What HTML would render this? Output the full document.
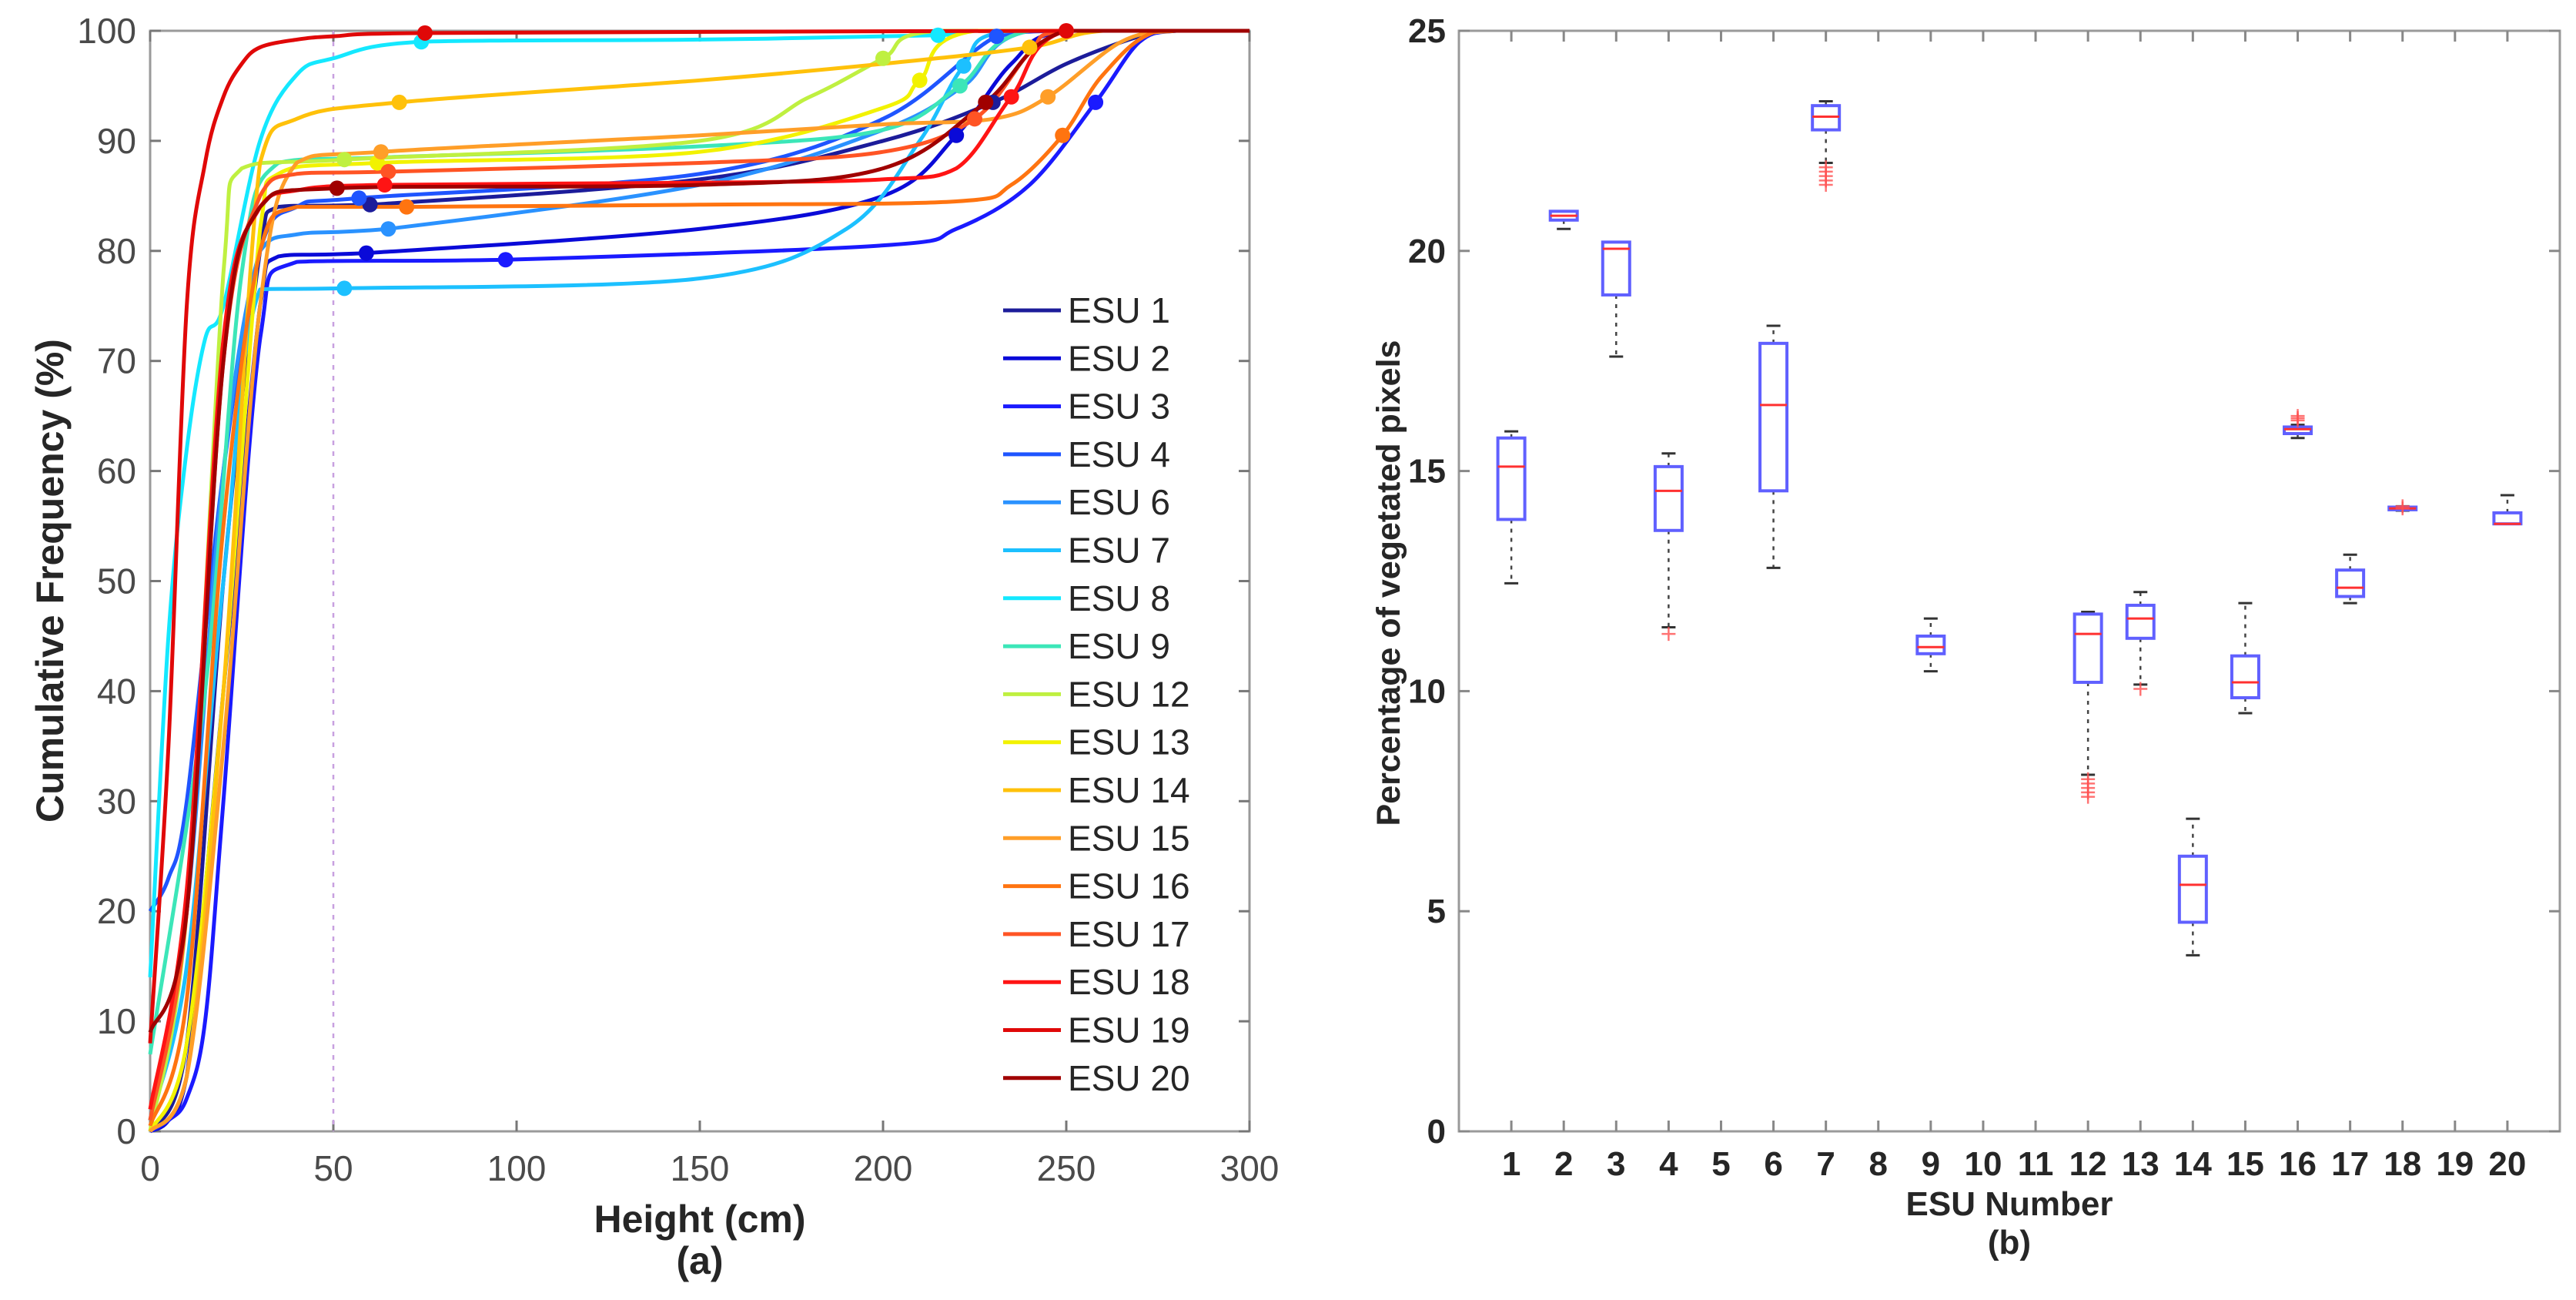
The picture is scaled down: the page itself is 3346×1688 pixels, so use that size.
<!DOCTYPE html>
<html><head><meta charset="utf-8"><title>Cumulative frequency and vegetated pixels</title>
<style>
html,body{margin:0;padding:0;background:#fff;}
svg{display:block;}
text{font-family:"Liberation Sans",Arial,sans-serif;}
</style></head>
<body>
<svg id="fig" width="3346" height="1688" viewBox="0 0 3346 1688" xmlns="http://www.w3.org/2000/svg">
<rect x="0" y="0" width="3346" height="1688" fill="#fff"/>
<g id="left"></g>
<g id="right"></g>
</svg>
<script>
// ---------- Panel (a) data ----------
const seriesNames = ["ESU 1","ESU 2","ESU 3","ESU 4","ESU 6","ESU 7","ESU 8","ESU 9","ESU 12","ESU 13","ESU 14","ESU 15","ESU 16","ESU 17","ESU 18","ESU 19","ESU 20"];
const seriesColors = ["#1c1c9a","#0a0ad8","#1a1aff","#1f55ff","#2a92ff","#1cc0ff","#14e8ff","#3ce6b8","#bff040","#f2f200","#ffc10a","#ff9e28","#ff7410","#ff5424","#ff1414","#e00808","#a00000"];
const esu1X = [0,10,20,30,35,60,150,200,230,250,270,280,300];
const esu1Y = [0,8,50,80,84,84.2,86.5,90,93.5,97,99.5,100,100];
const esu2X = [0,5,10,20,30,35,59,150,200,220,235,250,300];
const esu2Y = [0,1,5,40,75,79.5,79.8,82,85,90.5,97,100,100];
const esu3X = [0,5,10,15,20,30,40,97,200,220,240,258,270,280,300];
const esu3Y = [0,1,3,10,30,72,79,79.2,80.5,82,86,93.5,99,100,100];
const esu4X = [0,5,10,20,30,40,57,150,200,231,250,300];
const esu4Y = [20,23,30,60,80,84,84.8,87,92,99.5,100,300*0+100];
const esu6X = [0,10,20,30,40,65,150,200,222,240,300];
const esu6Y = [1,20,60,80,81.5,82,86,91,95,100,100];
const esu7X = [0,10,20,30,53,150,190,210,222,235,300];
const esu7Y = [1,15,50,76.5,76.6,77.5,82,90,96.8,100,100];
const esu8X = [0,5,10,15,20,30,40,50,74,150,215,225,300];
const esu8Y = [14,45,62,72,75,90,96,97.5,99,99.2,99.6,100,100];
const esu9X = [0,15,25,35,64,150,200,221,240,300];
const esu9Y = [7,40,78,88,88.5,89.5,91,95,100,100];
const esu12X = [0,10,20,25,53,150,180,200,215,300];
const esu12Y = [0,20,78,87.5,88.3,90,94,97.5,100,100];
const esu13X = [0,10,20,30,35,62,150,200,210,225,300];
const esu13Y = [0,8,40,82,87,88,89,93,95.5,100,100];
const esu14X = [0,10,20,30,40,68,150,200,240,260,300];
const esu14Y = [0,5,40,88,92,93.5,95.5,97,98.5,100,100];
const esu15X = [0,10,20,30,40,63,150,200,230,245,265,280,300];
const esu15Y = [0,5,35,75,88,89,90.5,91.5,92,94,99,100,100];
const esu16X = [0,10,20,30,40,70,150,220,235,249,260,275,300];
const esu16Y = [0.5,12,55,80,84,84,84.2,84.5,86,90.5,96,100,100];
const esu17X = [0,10,20,30,40,65,150,200,225,240,250,300];
const esu17Y = [1,20,70,85,87,87.2,88,89,92,98,100,100];
const esu18X = [0,10,20,30,40,64,150,200,220,235,250,300];
const esu18Y = [2,22,72,84,85.5,86,86.2,86.5,87.5,94,100,100];
const esu19X = [0,5,10,15,20,25,30,40,50,75,250,300];
const esu19Y = [8,35,75,88,94,97,98.5,99.2,99.5,99.8,100,100];
const esu20X = [0,10,20,30,51,150,200,228,250,300];
const esu20Y = [9,20,70,84,85.7,86,87.5,93.5,100,100];
const seriesX = [esu1X,esu2X,esu3X,esu4X,esu6X,esu7X,esu8X,esu9X,esu12X,esu13X,esu14X,esu15X,esu16X,esu17X,esu18X,esu19X,esu20X];
const seriesY = [esu1Y,esu2Y,esu3Y,esu4Y,esu6Y,esu7Y,esu8Y,esu9Y,esu12Y,esu13Y,esu14Y,esu15Y,esu16Y,esu17Y,esu18Y,esu19Y,esu20Y];
// markers: [seriesIndex, x, y]
const markerSeries = [0,0,1,1,2,2,3,3,4,5,5,6,6,7,8,8,9,9,10,10,11,11,12,12,13,13,14,14,15,15,16,16];
const markerX = [60,230,59,220,97,258,57,231,65,53,222,74,215,221,53,200,62,210,68,240,63,245,70,249,65,225,64,235,75,250,51,228];
const markerY = [84.2,93.5,79.8,90.5,79.2,93.5,84.8,99.5,82,76.6,96.8,99,99.6,95,88.3,97.5,88,95.5,93.5,98.5,89,94,84,90.5,87.2,92,86,94,99.8,100,85.7,93.5];
const xTicksA = [0,50,100,150,200,250,300];
const yTicksA = [0,10,20,30,40,50,60,70,80,90,100];

// ---------- Panel (b) data ----------
const esuNumbers = [1,2,3,4,6,7,9,12,13,14,15,16,17,18,20];
const q1Vals = [13.9,20.7,19.0,13.65,14.55,22.75,10.85,10.2,11.2,4.75,9.85,15.85,12.15,14.12,13.8];
const medVals = [15.1,20.8,20.05,14.55,16.5,23.05,11.0,11.3,11.65,5.6,10.2,15.95,12.35,14.15,13.8];
const q3Vals = [15.75,20.9,20.2,15.1,17.9,23.3,11.25,11.75,11.95,6.25,10.8,16.0,12.75,14.18,14.05];
const lowVals = [12.45,20.5,17.6,11.45,12.8,22.0,10.45,8.1,10.15,4.0,9.5,15.75,12.0,14.1,13.8];
const highVals = [15.9,20.9,20.2,15.4,18.3,23.4,11.65,11.8,12.25,7.1,12.0,16.05,13.1,14.2,14.45];
const outlierEsu = [4,7,7,7,7,7,12,12,12,12,12,13,16,16,16,18,18];
const outlierVals = [11.3,21.5,21.6,21.7,21.8,21.9,7.6,7.7,7.8,7.9,8.0,10.05,16.15,16.2,16.25,14.15,14.2];
const xTicksB = [1,2,3,4,5,6,7,8,9,10,11,12,13,14,15,16,17,18,19,20];
const yTicksB = [0,5,10,15,20,25];

const NS = "http://www.w3.org/2000/svg";
function mk(tag, attrs, parent){const e=document.createElementNS(NS,tag);for(const k in attrs)e.setAttribute(k,attrs[k]);parent.appendChild(e);return e;}

// ---------- Panel (a) ----------
const L = document.getElementById('left');
const aL=195,aR=1623,aT=40,aB=1469;
const ax = v => aL + (v/300)*(aR-aL);
const ay = v => aB - (v/100)*(aB-aT);
const frameA = mk('rect',{x:aL,y:aT,width:aR-aL,height:aB-aT,fill:'none',stroke:'#9a9a9a','stroke-width':3},L);


xTicksA.forEach(t=>{
  const tk=mk('line',{x1:ax(t),x2:ax(t),y1:aB,y2:aB-14,stroke:'#777','stroke-width':3},L);
  
  
  mk('line',{x1:ax(t),x2:ax(t),y1:aT,y2:aT+14,stroke:'#777','stroke-width':3},L);
  const tx=mk('text',{x:ax(t),y:1533,'text-anchor':'middle','font-size':46,fill:'#4a4a4a'},L);
  tx.textContent=t;
  
  
});
yTicksA.forEach(t=>{
  const tk=mk('line',{x1:aL,x2:aL+14,y1:ay(t),y2:ay(t),stroke:'#777','stroke-width':3},L);
  
  
  mk('line',{x1:aR,x2:aR-14,y1:ay(t),y2:ay(t),stroke:'#777','stroke-width':3},L);
  const tx=mk('text',{x:177,y:ay(t)+16,'text-anchor':'end','font-size':46,fill:'#4a4a4a'},L);
  tx.textContent=t;
  
  
});
const ref50=mk('line',{x1:ax(50),x2:ax(50),y1:aT,y2:aB,stroke:'#c8a0e0','stroke-width':2.5,'stroke-dasharray':'6,8'},L);



function smoothPath(px,py){
  let d=`M${px[0]},${py[0]}`;
  for(let i=0;i<px.length-1;i++){
    const x0=px[Math.max(i-1,0)],y0=py[Math.max(i-1,0)];
    const x1=px[i],y1=py[i],x2=px[i+1],y2=py[i+1];
    const x3=px[Math.min(i+2,px.length-1)],y3=py[Math.min(i+2,px.length-1)];
    let c1x=x1+(x2-x0)/6,c1y=y1+(y2-y0)/6,c2x=x2-(x3-x1)/6,c2y=y2-(y3-y1)/6;
    c1x=Math.min(Math.max(c1x,x1),x2);c2x=Math.min(Math.max(c2x,x1),x2);
    c1y=Math.max(Math.min(c1y,Math.max(y1,y2)),Math.min(y1,y2));
    c2y=Math.max(Math.min(c2y,Math.max(y1,y2)),Math.min(y1,y2));
    d+=` C${c1x},${c1y} ${c2x},${c2y} ${x2},${y2}`;
  }
  return d;
}
for(let s=0;s<seriesNames.length;s++){
  const px=seriesX[s].map(ax), py=seriesY[s].map(v=>ay(Math.min(v,100)));
  const p=mk('path',{d:smoothPath(px,py),fill:'none',stroke:seriesColors[s],'stroke-width':5,'stroke-linejoin':'round'},L);
  
  
}
for(let m=0;m<markerX.length;m++){
  const c=mk('circle',{cx:ax(markerX[m]),cy:ay(markerY[m]),r:10,fill:seriesColors[markerSeries[m]]},L);
  
  
}
// legend
const legendG=mk('g',{},L);


seriesNames.forEach((n,i)=>{
  const y=403+i*62.3;
  const ln=mk('line',{x1:1303,x2:1378,y1:y,y2:y,stroke:seriesColors[i],'stroke-width':5},legendG);
  
  
  const t=mk('text',{x:1387,y:y+16,'font-size':46,fill:'#262626'},legendG);
  t.textContent=n;
  
  
});
const xtA=mk('text',{x:909,y:1600,'text-anchor':'middle','font-size':50,'font-weight':'bold',fill:'#262626'},L);
xtA.textContent='Height (cm)';


const capA=mk('text',{x:909,y:1654,'text-anchor':'middle','font-size':50,'font-weight':'bold',fill:'#262626'},L);
capA.textContent='(a)';


const ytA=mk('text',{x:0,y:0,'text-anchor':'middle','font-size':50,'font-weight':'bold',fill:'#262626',transform:'translate(82,754) rotate(-90)'},L);
ytA.textContent='Cumulative Frequency (%)';



// ---------- Panel (b) ----------
const R=document.getElementById('right');
const bL=1895,bR=3325,bT=40,bB=1469;
const bx=v=>bL+(v/21)*(bR-bL);
const by=v=>bB-(v/25)*(bB-bT);
const frameB=mk('rect',{x:bL,y:bT,width:bR-bL,height:bB-bT,fill:'none',stroke:'#9a9a9a','stroke-width':3},R);


xTicksB.forEach(t=>{
  const tk=mk('line',{x1:bx(t),x2:bx(t),y1:bB,y2:bB-14,stroke:'#888','stroke-width':3},R);
  
  
  mk('line',{x1:bx(t),x2:bx(t),y1:bT,y2:bT+14,stroke:'#888','stroke-width':3},R);
  const tx=mk('text',{x:bx(t),y:1526,'text-anchor':'middle','font-size':44,'font-weight':'bold',fill:'#262626'},R);
  tx.textContent=t;
  
  
});
yTicksB.forEach(t=>{
  const tk=mk('line',{x1:bL,x2:bL+14,y1:by(t),y2:by(t),stroke:'#888','stroke-width':3},R);
  
  
  mk('line',{x1:bR,x2:bR-14,y1:by(t),y2:by(t),stroke:'#888','stroke-width':3},R);
  const tx=mk('text',{x:1878,y:by(t)+15,'text-anchor':'end','font-size':44,'font-weight':'bold',fill:'#262626'},R);
  tx.textContent=t;
  
  
});
const bw=35;
esuNumbers.forEach((e,i)=>{
  const cx=bx(e);
  const g=mk('g',{},R);
  
  
  mk('line',{x1:cx,x2:cx,y1:by(q3Vals[i]),y2:by(highVals[i]),stroke:'#444','stroke-width':2.5,'stroke-dasharray':'5,7'},g);
  mk('line',{x1:cx,x2:cx,y1:by(q1Vals[i]),y2:by(lowVals[i]),stroke:'#444','stroke-width':2.5,'stroke-dasharray':'5,7'},g);
  mk('line',{x1:cx-9,x2:cx+9,y1:by(highVals[i]),y2:by(highVals[i]),stroke:'#333','stroke-width':3},g);
  mk('line',{x1:cx-9,x2:cx+9,y1:by(lowVals[i]),y2:by(lowVals[i]),stroke:'#333','stroke-width':3},g);
  mk('rect',{x:cx-bw/2,y:by(q3Vals[i]),width:bw,height:Math.max(by(q1Vals[i])-by(q3Vals[i]),1),fill:'#fff',stroke:'#6060ff','stroke-width':4},g);
  mk('line',{x1:cx-bw/2,x2:cx+bw/2,y1:by(medVals[i]),y2:by(medVals[i]),stroke:'#ff3030','stroke-width':3},g);
});
outlierEsu.forEach((e,i)=>{
  const cx=bx(e),cy=by(outlierVals[i]);
  const o=mk('path',{d:`M${cx-9},${cy} H${cx+9} M${cx},${cy-9} V${cy+9}`,stroke:'#ff5050','stroke-width':2.5,fill:'none',opacity:0.8},R);
  
  
});
const xtB=mk('text',{x:2610,y:1578,'text-anchor':'middle','font-size':44,'font-weight':'bold',fill:'#262626'},R);
xtB.textContent='ESU Number';


const capB=mk('text',{x:2610,y:1628,'text-anchor':'middle','font-size':44,'font-weight':'bold',fill:'#262626'},R);
capB.textContent='(b)';


const ytB=mk('text',{x:0,y:0,'text-anchor':'middle','font-size':43,'font-weight':'bold',fill:'#262626',transform:'translate(1818,757) rotate(-90)'},R);
ytB.textContent='Percentage of vegetated pixels';


</script>
</body></html>
